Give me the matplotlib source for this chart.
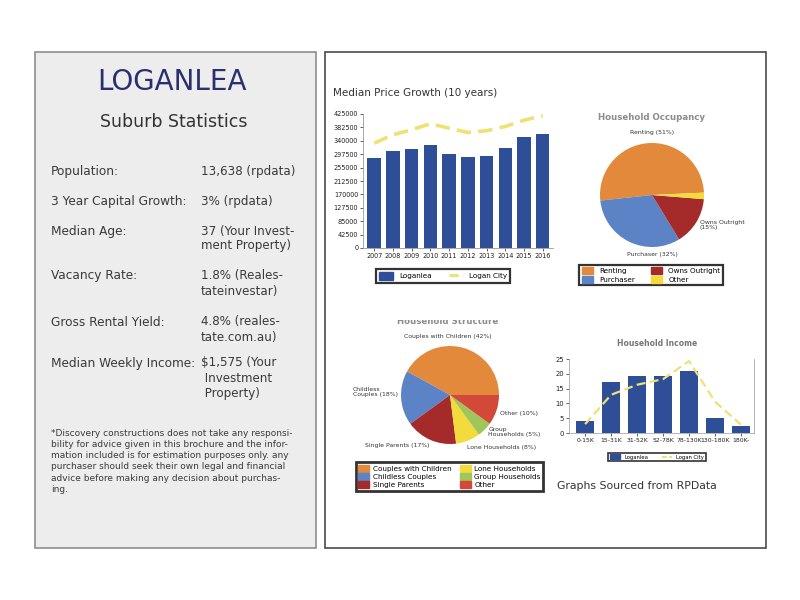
import matplotlib.pyplot as plt
from matplotlib.patches import Rectangle, Patch
from matplotlib.lines import Line2D
from matplotlib.transforms import Bbox, TransformedBbox

# data
years = ['2007', '2008', '2009', '2010', '2011', '2012', '2013', '2014', '2015', '2016']
loganlea_price = [285000, 309000, 315500, 327000, 299500, 290000, 293000, 318500, 351500, 362000]
logan_city_price = [332500, 359000, 375000, 394000, 380000, 366500, 372000, 385500, 405000, 420000]

occ_labels = ['Renting', 'Purchaser', 'Owns Outright', 'Other']
occ_values = [51, 32, 15, 2]

struct_labels = ['Couples with Children', 'Childless Couples', 'Single Parents',
                 'Lone Households', 'Group Households', 'Other']
struct_values = [42, 18, 17, 8, 5, 10]

income_bands = ['0-15K', '15-31K', '31-52K', '52-78K', '78-130K', '130-180K', '180K-']
loganlea_income = [3.9, 17.1, 19.3, 19.2, 21.1, 5.0, 2.5]
logan_city_income = [3.0, 12.9, 16.3, 18.2, 24.3, 10.6, 2.8]

stats_labels = ['Population:', '3 Year Capital Growth:', 'Median Age:', 'Vacancy Rate:',
                'Gross Rental Yield:', 'Median Weekly Income:']
stats_values = [['13,638 (rpdata)'], ['3% (rpdata)'], ['37 (Your Invest-', 'ment Property)'],
                ['1.8% (Reales-', 'tateinvestar)'], ['4.8% (reales-', 'tate.com.au)'],
                ['$1,575 (Your', ' Investment', ' Property)']]
stats_y = [172, 201, 231, 276, 322, 363]

disclaimer = ['*Discovery constructions does not take any responsi-',
              'bility for advice given in this brochure and the infor-',
              'mation included is for estimation purposes only. any',
              'purchaser should seek their own legal and financial',
              'advice before making any decision about purchas-',
              'ing.']

blue = '#2e4e98'
yellow = '#efe173'
orange = '#e2893b'
pblue = '#5c83c6'
dred = '#a52b2a'
pyellow = '#f3db3c'
green = '#a0c55a'
red = '#d2493a'
text_c = '#3a3a3a'


def rect(x, y, w, h):
    # pixel box (top-left origin) -> figure fraction
    return [x / 800, 1 - (y + h) / 600, w / 800, h / 600]


def fx(x):
    return x / 800


def fy(y):
    return 1 - y / 600


fig = plt.figure(figsize=(8, 6), dpi=100)
fig.patch.set_facecolor('white')

# panels
fig.patches.append(Rectangle((fx(35), fy(548)), 281 / 800, 496 / 600, transform=fig.transFigure,
                             facecolor='#ededed', edgecolor='#8e8e8e', lw=1.2, zorder=-5))
fig.patches.append(Rectangle((fx(325), fy(548)), 441 / 800, 496 / 600, transform=fig.transFigure,
                             facecolor='white', edgecolor='#4a4a4a', lw=1.2, zorder=-5))

# left panel text
fig.text(fx(172), fy(82), 'LOGANLEA', fontsize=20, color='#2b2f6e', ha='center', va='center')
fig.text(fx(174), fy(122), 'Suburb Statistics', fontsize=12.5, color='#333333', ha='center', va='center')
for lab, vals, y in zip(stats_labels, stats_values, stats_y):
    fig.text(fx(51), fy(y), lab, fontsize=8.7, color=text_c, va='center')
    for i, v in enumerate(vals):
        fig.text(fx(201), fy(y + i * 15), v, fontsize=8.6, color=text_c, va='center')
for i, line in enumerate(disclaimer):
    fig.text(fx(51), fy(433 + i * 11.3), line, fontsize=6.5, color=text_c, va='center')

# median price growth
fig.text(fx(333), fy(93), 'Median Price Growth (10 years)', fontsize=7.5, color='#333333', va='center')
ax1 = fig.add_axes(rect(363, 114, 190, 134))
xs = range(len(years))
ax1.bar(xs, loganlea_price, width=0.72, color=blue, label='Loganlea', zorder=2)
ax1.plot(xs, logan_city_price, color=yellow, lw=2.6, dashes=(4, 2), label='Logan City', zorder=3)
ax1.set_xlim(-0.6, 9.55)
ax1.set_ylim(0, 425000)
ax1.set_yticks([i * 42500 for i in range(11)])
ax1.set_xticks(list(xs))
ax1.set_xticklabels(years)
ax1.tick_params(labelsize=4.7, length=2, width=0.5, colors='#222222', pad=1.5)
for s in ['top', 'right']:
    ax1.spines[s].set_visible(False)
for s in ['left', 'bottom']:
    ax1.spines[s].set_color('#999999')
    ax1.spines[s].set_linewidth(0.6)
leg1 = fig.legend(handles=[Patch(color=blue, label='Loganlea'),
                           Line2D([], [], color=yellow, lw=2.2, dashes=(3, 1.5), label='Logan City')],
                  loc='center', bbox_to_anchor=(fx(443), fy(276)), ncol=2, fontsize=5.2,
                  frameon=True, fancybox=False, edgecolor='black', columnspacing=2.4,
                  handlelength=2.0, handleheight=1.2, borderpad=0.4)
leg1.get_frame().set_linewidth(1.6)

# household occupancy
ax2 = fig.add_axes(rect(600, 143, 104, 104))
ax2.pie(occ_values, colors=[orange, pblue, dred, pyellow], startangle=2.6, radius=1)
ax2.set_xlim(-1, 1)
ax2.set_ylim(-1, 1)
ax2.set_aspect('equal')
ax2.text(0, 1.5, 'Household Occupancy', fontsize=6.2, color='#8c8c8c', fontweight='bold', ha='center', va='center')
ax2.text(0, 1.21, 'Renting (51%)', fontsize=4.4, color='#333333', ha='center', va='center')
ax2.text(0.92, -0.58, 'Owns Outright\n(15%)', fontsize=4.4, color='#333333', ha='left', va='center',
         linespacing=1.0)
ax2.text(0, -1.14, 'Purchaser (32%)', fontsize=4.4, color='#333333', ha='center', va='center')
leg2 = fig.legend(handles=[Patch(color=orange, label='Renting'), Patch(color=pblue, label='Purchaser'),
                           Patch(color=dred, label='Owns Outright'), Patch(color=pyellow, label='Other')],
                  loc='center', bbox_to_anchor=(fx(651), fy(275)), ncol=2, fontsize=5.2,
                  frameon=True, fancybox=False, edgecolor='black', columnspacing=2.2,
                  handlelength=1.6, handleheight=1.1, borderpad=0.35, labelspacing=0.25)
leg2.get_frame().set_linewidth(1.6)

# household structure
ax3 = fig.add_axes(rect(401, 346, 98, 98))
ax3.pie(struct_values, colors=[orange, pblue, dred, pyellow, green, red], startangle=0, radius=1)
ax3.set_xlim(-1, 1)
ax3.set_ylim(-1, 1)
ax3.set_aspect('equal')
t = ax3.text(-0.04, 1.51, 'Household Structure', fontsize=6.2, color='#8c8c8c', fontweight='bold',
             ha='center', va='center')
t.set_clip_box(TransformedBbox(Bbox([[fx(340), fy(340)], [fx(560), fy(319.5)]]), fig.transFigure))
t.set_clip_on(True)
ax3.text(-0.04, 1.2, 'Couples with Children (42%)', fontsize=4.4, color='#333333', ha='center', va='center')
ax3.text(-1.98, 0.06, 'Childless\nCouples (18%)', fontsize=4.4, color='#333333', ha='left', va='center',
         linespacing=1.0)
ax3.text(1.41, -0.37, 'Other (10%)', fontsize=4.4, color='#333333', ha='center', va='center')
ax3.text(0.78, -0.76, 'Group\nHouseholds (5%)', fontsize=4.4, color='#333333', ha='left', va='center',
         linespacing=1.0)
ax3.text(1.06, -1.07, 'Lone Households (8%)', fontsize=4.4, color='#333333', ha='center', va='center')
ax3.text(-1.08, -1.04, 'Single Parents (17%)', fontsize=4.4, color='#333333', ha='center', va='center')
leg3 = fig.legend(handles=[Patch(color=c, label=l) for c, l in
                           zip([orange, pblue, dred, pyellow, green, red], struct_labels)],
                  loc='center', bbox_to_anchor=(fx(449.5), fy(476.5)), ncol=2, fontsize=5.2,
                  frameon=True, fancybox=False, edgecolor='black', columnspacing=1.2,
                  handlelength=1.5, handleheight=1.1, borderpad=0.35, labelspacing=0.2,
                  handletextpad=0.5)
leg3.get_frame().set_linewidth(2)

# household income
fig.text(fx(657), fy(344), 'Household Income', fontsize=5.5, color='#777777', fontweight='bold',
         ha='center', va='center')
ax4 = fig.add_axes(rect(569, 359, 185, 74))
xi = range(len(income_bands))
ax4.bar(xi, loganlea_income, width=0.7, color=blue, zorder=2)
ax4.plot(xi, logan_city_income, color=yellow, lw=1.6, dashes=(4, 2), zorder=3)
ax4.set_xlim(-0.62, 6.5)
ax4.set_ylim(0, 25)
ax4.set_yticks([0, 5, 10, 15, 20, 25])
ax4.set_xticks(list(xi))
ax4.set_xticklabels(income_bands)
ax4.tick_params(axis='y', labelsize=4.9, length=2, width=0.5, colors='#222222', pad=1.5)
ax4.tick_params(axis='x', labelsize=4.4, length=2, width=0.5, colors='#222222', pad=1.5)
ax4.spines['top'].set_visible(False)
for s in ['left', 'bottom', 'right']:
    ax4.spines[s].set_color('#aaaaaa')
    ax4.spines[s].set_linewidth(0.6)
leg4 = fig.legend(handles=[Patch(color=blue, label='Loganlea'),
                           Line2D([], [], color=yellow, lw=1.4, dashes=(2.5, 1.2), label='Logan City')],
                  loc='center', bbox_to_anchor=(fx(657), fy(457)), ncol=2, fontsize=3.8,
                  frameon=True, fancybox=False, edgecolor='black', columnspacing=2.5,
                  handlelength=2.0, handleheight=1.0, borderpad=0.3)
leg4.get_frame().set_linewidth(1.2)

fig.text(fx(557), fy(486), 'Graphs Sourced from RPData', fontsize=7.8, color='#333333', va='center')

fig.savefig('out.png', dpi=100)
